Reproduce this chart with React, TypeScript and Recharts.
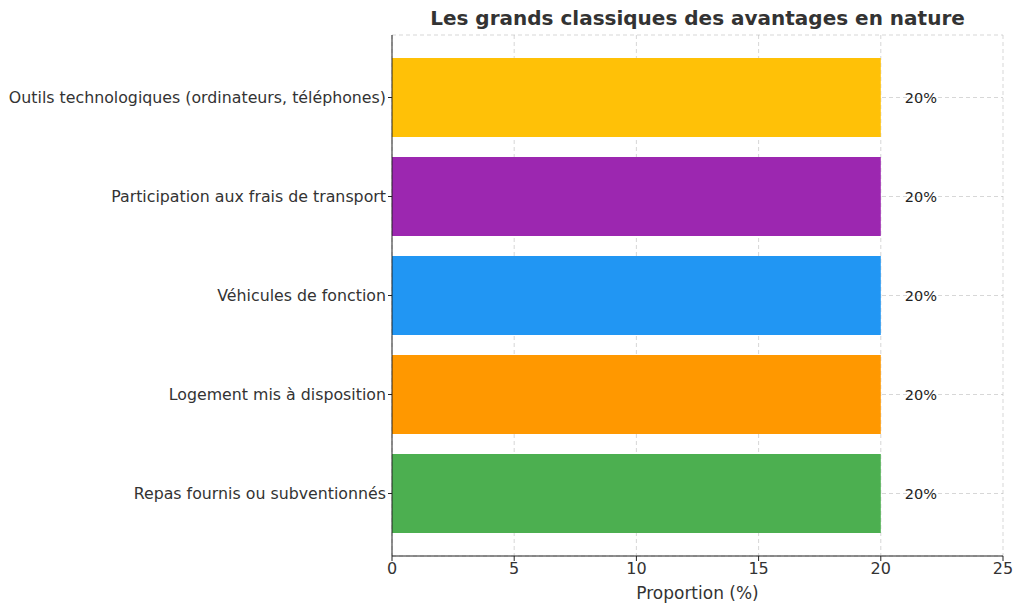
import {
  BarChart,
  Bar,
  XAxis,
  YAxis,
  CartesianGrid,
  Cell,
  LabelList,
} from 'recharts'

const categories = [
  'Outils technologiques (ordinateurs, téléphones)',
  'Participation aux frais de transport',
  'Véhicules de fonction',
  'Logement mis à disposition',
  'Repas fournis ou subventionnés',
]
const proportions = [20, 20, 20, 20, 20]
const barColors = ['#ffc107', '#9c27b0', '#2196f3', '#ff9800', '#4caf50']
const xTicks = [0, 5, 10, 15, 20, 25]

const data = categories.map((name, i) => ({ name, value: proportions[i] }))

const font = 'DejaVu Sans, sans-serif'
const ink = '#333333'

export default function App() {
  return (
    <div style={{ position: 'absolute', left: 0, top: 0, width: 1024, height: 611, background: '#fff', fontFamily: font }}>
      <div
        style={{
          position: 'absolute',
          left: 392,
          width: 611,
          top: 6,
          textAlign: 'center',
          fontSize: 20,
          fontWeight: 'bold',
          color: ink,
        }}
      >
        Les grands classiques des avantages en nature
      </div>
      <BarChart
        width={1024}
        height={611}
        data={data}
        layout="vertical"
        margin={{ top: 35, right: 21, left: 0, bottom: 0 }}
        barSize={79}
      >
        <XAxis
          type="number"
          domain={[0, 25]}
          ticks={xTicks}
          height={55}
          stroke="#222"
          tickSize={5}
          tick={{ fill: ink, fontSize: 16, fontFamily: font }}
          label={{ value: 'Proportion (%)', position: 'insideBottom', offset: 12, fill: ink, fontSize: 17, fontFamily: font }}
        />
        <YAxis
          type="category"
          dataKey="name"
          width={392}
          stroke="#222"
          tickSize={4}
          tickMargin={2}
          padding={{ top: 13, bottom: 13 }}
          tick={{ fill: ink, fontSize: 15.8, fontFamily: font }}
        />
        <Bar dataKey="value" isAnimationActive={false}>
          {data.map((d, i) => (
            <Cell key={d.name} fill={barColors[i]} />
          ))}
          <LabelList
            dataKey="value"
            position="right"
            offset={24}
            formatter={(v: any) => `${v}%`}
            style={{ fill: '#222', fontSize: 14.5, fontFamily: font, fontWeight: 'normal' }}
          />
        </Bar>
        <CartesianGrid strokeDasharray="4 3" stroke="#b0b0b0" strokeOpacity={0.5} />
      </BarChart>
    </div>
  )
}
